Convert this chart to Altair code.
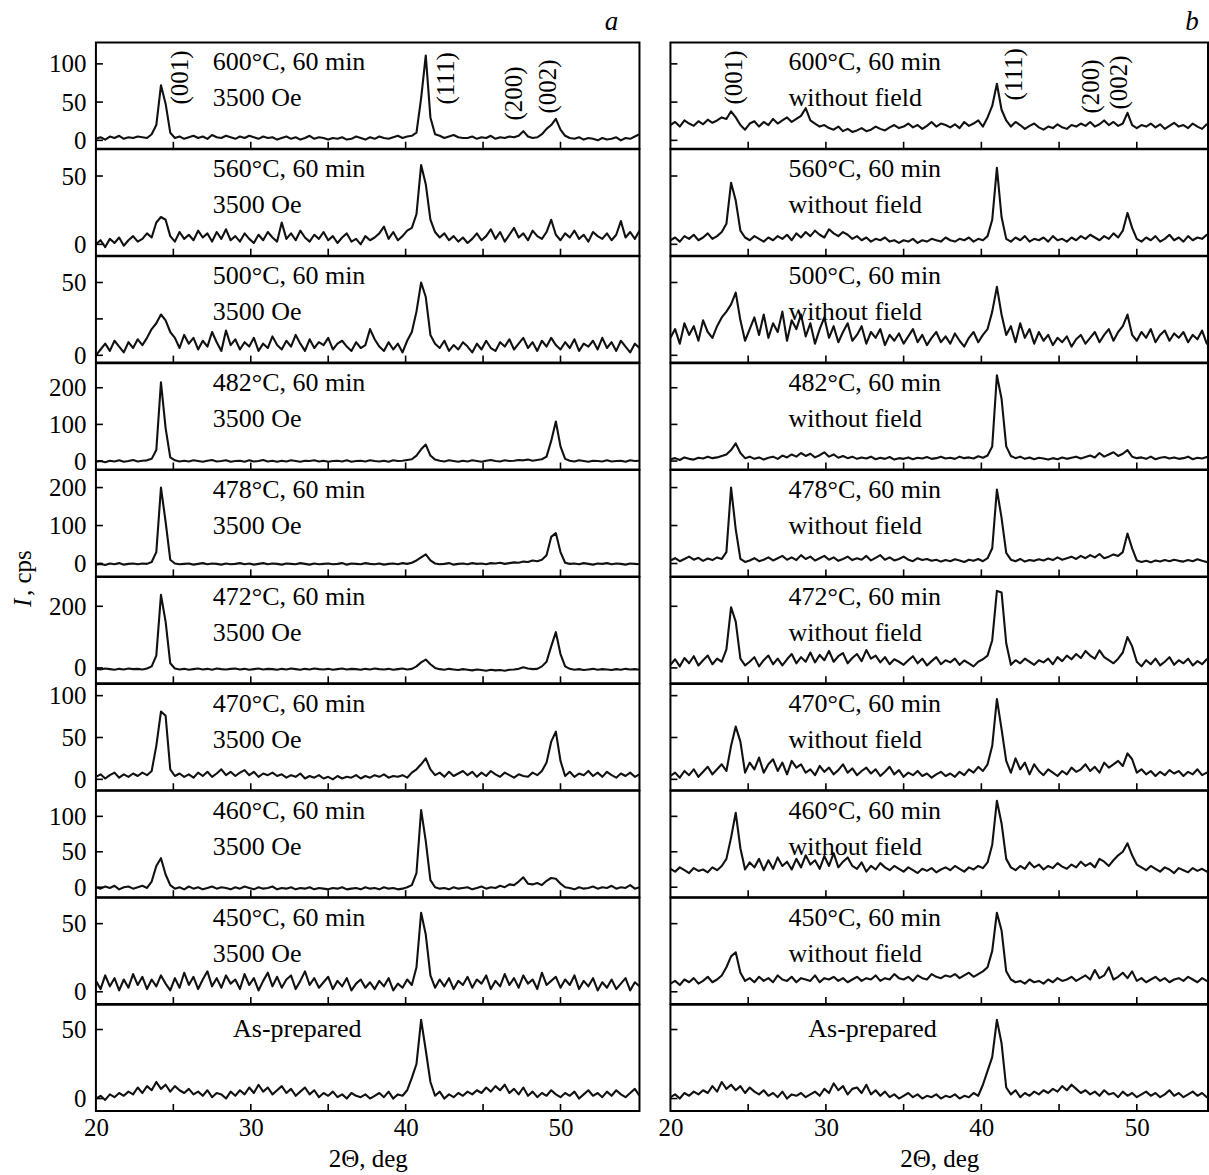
import altair as alt
import pandas as pd

FONT = "Liberation Serif"

# 2-theta sampling grid (deg)
two_theta = [round(20.0 + 0.3 * i, 1) for i in range(118)]

# ---- panel a (3500 Oe) ----
L1 = [2, 4, 1, 5, 3, 6, 2, 4, 3, 5,
      4, 3, 8, 20, 72, 48, 10, 3, 5, 2,
      4, 6, 3, 5, 2, 7, 4, 3, 6, 4,
      2, 5, 3, 6, 4, 2, 5, 3, 4, 1,
      3, 5, 2, 4, 1, 3, 6, 2, 4, 3,
      1, 3, 2, 4, 1, 2, 5, 3, 1, 4,
      2, 5, 3, 2, 4, 6, 3, 5, 6, 10,
      55, 111, 30, 8, 6, 3, 5, 7, 4, 3,
      3, 5, 2, 4, 3, 6, 2, 4, 3, 5,
      4, 6, 12, 5, 3, 4, 8, 15, 20, 28,
      14, 6, 3, 2, 4, 1, 3, 2, 0, 3,
      1, 2, 4, 0, 3, 2, 5, 8]
L2 = [0, 3, -2, 4, 1, 5, -1, 3, 6, 2,
      4, 8, 5, 16, 20, 18, 6, 2, 9, 4,
      7, 3, 10, 5, 8, 2, 9, 4, 11, 3,
      6, 2, 8, 4, 1, 7, 3, 9, 5, 2,
      16, 4, 8, 3, 10, 5, 2, 7, 4, 9,
      3, 6, 1, 5, 8, 2, 4, 0, 6, 3,
      5, 8, 13, 4, 9, 3, 6, 10, 12, 22,
      58, 44, 18, 9, 5, 8, 3, 6, 2, 5,
      1, 4, 8, 3, 6, 11, 4, 9, 2, 7,
      12, 5, 8, 3, 10, 6, 4, 9, 18, 7,
      3, 8, 5, 10, 4, 7, 2, 9, 6, 4,
      8, 3, 7, 17, 5, 9, 4, 10]
L3 = [0, 4, 8, 3, 10, 6, 2, 9, 5, 11,
      7, 12, 18, 22, 28, 24, 16, 12, 5, 14,
      8, 12, 4, 10, 6, 16, 9, 3, 17, 7,
      11, 4, 9, 6, 12, 3, 8, 5, 13, 7,
      4, 10, 6, 14, 8, 3, 11, 5, 9, 7,
      12, 4, 8, 10, 6, 3, 9, 5, 7, 18,
      11, 6, 3, 9, 4, 8, 2, 10, 16, 30,
      50, 40, 14, 8, 5, 10, 3, 7, 4, 9,
      6, 2, 8, 4, 10, 5, 3, 9, 6, 11,
      4, 8, 12, 5, 9, 3, 10, 6, 12, 7,
      4, 9, 5, 11, 3, 8, 6, 10, 4, 12,
      5, 9, 3, 10, 6, 2, 8, 5]
L4 = [-2, 0, -3, 1, -1, 2, -2, 0, 3, -1,
      1, 2, 6, 30, 215, 90, 10, 2, -1, 1,
      -1, 2, 0, -2, 1, 3, -1, 0, 2, -2,
      0, 1, -2, 2, -1, 0, 3, -1, 1, -2,
      1, -1, 2, 0, -2, 1, 0, 2, -1, 1,
      -2, 0, 1, -1, 2, -2, 0, 1, -1, 2,
      0, -1, 1, -2, 2, 0, 1, 3, 5, 15,
      32, 45, 15, 4, 1, -1, 2, 0, -2, 1,
      -1, 2, 0, -2, 1, 3, 0, -1, 2, 0,
      1, 3, 2, 4, 1, 3, 5, 12, 55, 108,
      40, 6, 1, -1, 2, 0, -2, 1, 0, -1,
      2, -1, 0, 1, -2, 2, 0, 1]
L5 = [-3, -1, -4, 0, -2, 1, -3, -1, 0, -2,
      0, -1, 4, 30, 200, 110, 10, 0, -2, -1,
      0, -3, -1, 1, -2, 0, -1, -3, 0, -2,
      -1, 1, -2, 0, -3, -1, 1, -2, 0, -1,
      -3, 0, -1, -2, 1, -1, -3, 0, -2, -1,
      0, -2, -1, 1, -3, 0, -1, -2, 1, -1,
      -2, 0, -3, -1, 0, -2, 1, -1, 2, 8,
      16, 24, 8, 0, -2, -1, 1, -3, -1, 0,
      -2, 1, -1, 0, -2, 1, 0, 2, -1, 1,
      3, 2, 5, 4, 8, 6, 10, 22, 70, 80,
      30, 2, -1, 0, -2, 1, -1, -3, 0, -1,
      1, -2, 0, -1, -3, 0, -1, -2]
L6 = [-3, -5, -2, -4, -6, -3, -5, -2, -4, -3,
      -5, -2, 5, 40, 237, 150, 15, -2, -5, -3,
      -6, -4, -2, -5, -3, -6, -2, -4, -5, -3,
      -2, -5, -3, -6, -4, -2, -5, -3, -4, -6,
      -3, -5, -2, -4, -6, -3, -5, -2, -4, -5,
      -3, -6, -4, -2, -5, -3, -4, -6, -3, -5,
      -2, -4, -5, -3, -6, -4, -2, -5, -3, 5,
      18, 27, 12, 0, -4, -6, -3, -5, -7, -4,
      -6, -8, -5, -7, -9, -6, -8, -7, -9, -6,
      -5, -3, 2, -2, -4, -3, 5, 20, 70, 116,
      45, 5, -3, -6, -4, -7, -5, -3, -6, -4,
      -5, -7, -4, -6, -3, -5, -4, -6]
L7 = [3, 6, 1, 5, 8, 2, 6, 3, 7, 4,
      8, 5, 10, 40, 81, 76, 12, 4, 7, 3,
      6, 2, 8, 4, 9, 3, 7, 12, 5, 9,
      4, 8, 11, 5, 9, 3, 7, 5, 8, 4,
      6, 2, 5, 3, 7, 1, 4, 2, 5, 1,
      3, 0, 4, 1, 3, 2, 5, 1, 4, 2,
      5, 3, 6, 2, 4, 3, 5, 2, 8, 12,
      18, 25, 12, 5, 8, 3, 9, 4, 7, 10,
      5, 9, 3, 8, 4, 10, 6, 3, 8, 5,
      2, 6, 4, 3, 8, 5, 10, 20, 45, 57,
      22, 4, 9, 3, 7, 5, 10, 4, 8, 3,
      9, 5, 2, 7, 4, 8, 3, 6]
L8 = [0, -2, 1, -1, 2, -3, 0, 1, -2, 0,
      2, -1, 8, 30, 41, 18, 3, -2, 0, -3,
      1, -2, 0, -3, -1, 1, -2, 0, -1, -3,
      0, -2, 1, -1, -3, 0, -2, -1, 1, -3,
      -1, -2, 0, -3, -1, -2, 0, -3, -1, -2,
      -3, -1, -2, 0, -3, -2, -1, -3, 0, -2,
      -1, -3, 0, -2, -1, -3, -2, 0, 3, 20,
      109, 65, 10, 0, -2, -1, -3, 0, -2, -1,
      0, -3, -1, 1, -2, 0, -1, 2, 0, 4,
      3, 8, 14, 5, 4, 6, 3, 9, 13, 12,
      5, 0, -1, -3, 0, -2, -1, 1, -2, 0,
      -1, 2, -2, 0, -1, 3, -2, 0]
L9 = [8, 2, 12, 4, 10, 1, 9, 3, 13, 5,
      11, 2, 9, 4, 12, 6, 1, 10, 3, 14,
      5, 11, 2, 9, 15, 4, 10, 3, 12, 6,
      9, 2, 13, 5, 10, 1, 8, 14, 4, 11,
      3, 9, 12, 2, 8, 15, 5, 10, 3, 7,
      11, 2, 8, 4, 10, 1, 6, 9, 3, 7,
      2, 8, 4, 10, 1, 6, 3, 9, 5, 18,
      58, 42, 12, 3, 9, 4, 10, 2, 8, 5,
      11, 3, 9, 6, 12, 2, 8, 4, 13, 5,
      10, 3, 12, 6, 9, 2, 14, 5, 8, 11,
      3, 9, 5, 12, 2, 8, 4, 10, 1, 7,
      3, 9, 2, 6, 10, 1, 7, 4]
L10 = [0, 2, -1, 3, 1, 4, 2, 5, 3, 8,
       4, 9, 6, 12, 7, 10, 5, 9, 6, 4,
       7, 3, 5, 2, 6, 1, 4, 3, 0, 5,
       2, 6, 3, 8, 4, 10, 5, 8, 3, 6,
       9, 4, 7, 2, 5, 8, 3, 6, 1, 4,
       2, 5, 1, 3, 0, 4, 2, 1, 3, 0,
       2, 4, 1, 5, 0, 3, 2, 6, 15, 25,
       57, 35, 12, 2, 5, 0, 3, 1, 4, 2,
       5, 3, 6, 4, 8, 5, 9, 6, 10, 4,
       7, 3, 8, 2, 5, 1, 4, 2, 6, 3,
       1, 4, 2, 5, 0, 3, 6, 2, 4, 1,
       5, 2, 6, 3, 1, 4, 7, 2]

# ---- panel b (without field) ----
R1 = [20, 24, 18, 26, 22, 19, 25, 21, 27, 23,
      26, 30, 28, 38, 30, 20, 14, 22, 25, 18,
      24, 20, 28, 22, 26, 30, 24, 28, 32, 42,
      26, 22, 18, 20, 16, 14, 18, 12, 15, 11,
      13, 16, 12, 14, 18, 15, 13, 17, 20, 16,
      18, 22, 17, 20, 15, 19, 24, 18, 22, 20,
      17, 21, 16, 24, 19, 22, 26, 18, 30, 45,
      74, 40, 26, 18, 24, 20, 15, 19, 22, 17,
      14, 18, 16, 21, 17, 15, 20, 18, 22, 19,
      24, 18, 21, 26, 20, 24, 19, 22, 36, 20,
      16, 20, 18, 22, 17, 21, 15, 19, 23, 18,
      20, 16, 22, 18, 15, 21, 19, 17]
R2 = [3, 5, 2, 6, 4, 7, 3, 5, 8, 4,
      6, 9, 15, 45, 32, 10, 5, 3, 6, 4,
      2, 5, 3, 6, 4, 7, 3, 8, 5, 9,
      6, 10, 7, 5, 11, 8, 6, 9, 7, 4,
      6, 3, 5, 2, 4, 3, 5, 2, 3, 1,
      3, 2, 4, 1, 3, 2, 4, 3, 2, 5,
      3, 2, 4, 3, 5, 2, 4, 3, 6, 18,
      56, 20, 4, 2, 5, 3, 6, 2, 4, 3,
      5, 2, 6, 3, 4, 2, 5, 3, 6, 4,
      7, 5, 3, 6, 4, 8, 5, 10, 23, 12,
      4, 2, 5, 3, 6, 2, 4, 7, 3, 5,
      2, 6, 3, 5, 4, 7, 3, 5]
R3 = [12, 18, 8, 22, 14, 20, 10, 24, 16, 12,
      20, 26, 30, 35, 43, 24, 10, 18, 26, 14,
      28, 12, 22, 16, 30, 10, 24, 18, 28, 13,
      22, 8, 18, 26, 12, 20, 9, 16, 22, 10,
      14, 20, 8, 16, 12, 18, 7, 14, 10, 15,
      8, 13, 18, 9, 14, 7, 12, 16, 9, 13,
      8, 15, 10, 6, 12, 16, 9, 14, 18, 30,
      47, 28, 14, 20, 9, 22, 12, 18, 8, 16,
      10, 14, 7, 12, 9, 13, 6, 11, 14, 8,
      12, 16, 9, 14, 18, 10, 16, 20, 28, 14,
      10, 16, 12, 18, 9, 14, 17, 10, 15, 12,
      16, 9, 14, 11, 17, 8, 13, 15]
R4 = [5, 8, 3, 10, 6, 4, 9, 7, 12, 8,
      10, 14, 18, 30, 48, 22, 8, 12, 6, 10,
      4, 9, 12, 6, 15, 10, 18, 12, 22, 14,
      20, 10, 16, 24, 12, 18, 9, 14, 8, 12,
      6, 10, 7, 12, 5, 9, 6, 11, 4, 8,
      6, 10, 5, 9, 7, 11, 6, 8, 12, 7,
      9, 6, 12, 8, 10, 7, 13, 9, 15, 40,
      234, 170, 40, 14, 8, 12, 6, 10, 5, 9,
      7, 4, 8, 5, 10, 6, 9, 12, 7, 11,
      15, 10, 22, 12, 18, 24, 14, 20, 30, 12,
      8, 10, 6, 12, 5, 9, 11, 7, 10, 6,
      8, 12, 5, 9, 7, 11, 6, 10]
R5 = [8, 14, 6, 12, 18, 10, 15, 7, 13, 9,
      16, 12, 30, 200, 90, 12, 4, 8, 14, 6,
      10, 16, 8, 14, 20, 10, 16, 9, 22, 12,
      18, 8, 14, 20, 10, 16, 7, 12, 18, 9,
      14, 10, 20, 8, 15, 22, 10, 16, 8, 12,
      18, 10, 6, 14, 9, 12, 7, 10, 5, 9,
      6, 11, 8, 4, 10, 7, 12, 6, 14, 40,
      195, 120, 28, 10, 6, 12, 5, 9, 7, 11,
      8, 13, 9, 16, 10, 14, 18, 12, 20, 14,
      22, 16, 25, 14, 18, 24, 20, 30, 79, 40,
      8, 4, 7, 3, 8, 5, 9, 6, 10, 7,
      5, 9, 6, 11, 7, 4, 8, 10]
R6 = [10, 28, 5, 32, 15, 38, 8, 25, 40, 12,
      30, 20, 60, 197, 150, 30, 8, 20, 35, 5,
      25, 40, 12, 30, 8, 28, 45, 15, 35, 20,
      50, 18, 42, 25, 55, 20, 38, 48, 15, 32,
      45, 22, 58, 30, 40, 18, 35, 12, 28, 20,
      10, 25, 38, 15, 30, 8, 22, 35, 12, 25,
      18, 30, 10, 24, 15, 5, 20, 28, 40, 90,
      250, 245, 80, 10, 25, 15, 30, 20, 10, 25,
      18, 30, 12, 35, 22, 40, 28, 45, 32, 55,
      40, 30, 57, 35, 25, 15, 30, 50, 100, 70,
      20, 5, 25, 12, 30, 8, 20, 35, 10, 25,
      15, 30, 8, 22, 12, 28, 18, 10]
R7 = [4, 8, 2, 10, 5, 12, 3, 9, 15, 6,
      12, 18, 10, 40, 63, 45, 8, 20, 12, 26,
      8, 18, 24, 10, 20, 6, 22, 14, 18, 8,
      12, 5, 16, 9, 14, 6, 11, 18, 8, 13,
      5, 10, 14, 7, 12, 4, 9, 15, 6, 11,
      3, 8, 5, 10, 4, 7, 2, 6, 9, 4,
      7, 3, 9, 5, 12, 8, 15, 10, 18, 40,
      96, 60, 22, 8, 25, 12, 20, 6, 18, 10,
      5, 12, 8, 4, 10, 6, 14, 9, 12, 18,
      10, 15, 8, 20, 14, 18, 22, 16, 31, 24,
      8, 12, 6, 10, 4, 9, 5, 11, 7, 10,
      4, 9, 6, 12, 5, 8, 3, 10]
R8 = [26, 22, 28, 24, 20, 27, 23, 25, 21, 28,
      24, 30, 40, 70, 105, 55, 25, 35, 28, 40,
      24, 38, 26, 42, 30, 36, 25, 40, 28, 45,
      32, 38, 26, 44, 30, 48, 28, 36, 42, 30,
      26, 35, 22, 30, 25, 34, 28, 24, 30, 26,
      22, 28, 24, 20, 26, 23, 27, 21, 25, 28,
      24, 30, 26, 22, 28, 25, 30, 27, 35, 60,
      122, 90, 40, 28, 24, 30, 26, 35, 28, 32,
      25, 30, 27, 34, 29, 26, 32, 28, 36, 30,
      34, 28, 40, 36, 30, 38, 45, 50, 62, 45,
      32, 28, 24, 30, 26, 22, 28, 25, 20, 27,
      24, 21, 27, 23, 26, 22, 25, 24]
R9 = [6, 8, 5, 9, 7, 10, 6, 8, 11, 7,
      9, 12, 18, 26, 29, 14, 8, 10, 7, 11,
      8, 10, 7, 12, 9, 8, 11, 7, 10, 9,
      8, 12, 7, 10, 9, 11, 8, 10, 7, 9,
      11, 8, 10, 9, 12, 8, 10, 9, 13, 10,
      9, 11, 8, 12, 10, 9, 13, 11, 10, 12,
      11, 13, 10, 12, 14, 11, 13, 15, 18, 30,
      58, 45, 15, 9, 7, 8, 6, 9, 7, 8,
      6, 9, 7, 10, 8, 9, 11, 8, 10, 12,
      9, 16, 10, 12, 18, 9, 11, 14, 10, 15,
      8, 10, 7, 9, 11, 8, 10, 7, 9, 10,
      8, 11, 9, 7, 10, 8, 9, 10]
R10 = [1, 3, 0, 4, 2, 5, 3, 6, 4, 9,
       5, 12, 7, 10, 6, 9, 4, 8, 5, 3,
       6, 2, 4, 1, 5, 0, 3, 2, 4, 1,
       3, 5, 2, 7, 4, 11, 6, 9, 3, 7,
       8, 4, 10, 3, 6, 2, 5, 1, 3, 0,
       2, 4, 1, 3, 0, 2, 1, 3, 0, 2,
       1, 3, 0, 2, 1, 4, 2, 10, 20, 30,
       57, 40, 8, 3, 6, 1, 4, 2, 5, 3,
       6, 4, 7, 5, 9, 6, 10, 7, 4, 6,
       3, 5, 2, 6, 3, 4, 1, 5, 2, 4,
       1, 3, 5, 2, 4, 1, 3, 6, 2, 4,
       1, 3, 5, 2, 4, 1, 3, 2]

series_a = [L1, L2, L3, L4, L5, L6, L7, L8, L9, L10]
series_b = [R1, R2, R3, R4, R5, R6, R7, R8, R9, R10]
for s in series_a + series_b:
    assert len(s) == len(two_theta), len(s)

conditions = ["600°C, 60 min", "560°C, 60 min", "500°C, 60 min", "482°C, 60 min",
              "478°C, 60 min", "472°C, 60 min", "470°C, 60 min", "460°C, 60 min",
              "450°C, 60 min", "As-prepared"]
field_a = "3500 Oe"
field_b = "without field"

y_domains = [[-11, 128], [-8.3, 69.5], [-5, 68], [-23, 267], [-34, 246],
             [-50, 295], [-13, 114], [-14, 136], [-9, 69], [-9, 68]]
y_labels = [[0, 50, 100], [0, 50], [0, 50], [0, 100, 200], [0, 100, 200],
            [0, 200], [0, 50, 100], [0, 50, 100], [0, 50], [0, 50]]
y_ticks_a = [[0, 50, 100], [0, 50], [0, 25, 50], [0, 100, 200], [0, 100, 200],
             [0, 200], [0, 50, 100], [0, 50, 100], [0, 50], [0, 50]]
y_ticks_b = [[0, 50, 100], [0, 50], [0, 50], [0, 100, 200], [0, 100, 200],
             [0, 200], [0, 50, 100], [0, 50, 100], [0, 50], [0, 50]]

x_tick_vals = [25, 30, 35, 40, 45, 50]
x_label_vals = [20, 30, 40, 50]

peak_names = ["(001)", "(111)", "(200)", "(002)"]
peak_x_a = [25.42, 42.6, 47.03, 49.2]
peak_x_b = [24.1, 42.1, 47.05, 48.86]
peak_py_a = [35, 36, 51, 44]
peak_py_b = [35, 32, 44, 40]

W_A, W_B = 544, 538
H = 106.4
XDOM_A = [20, 55.1]
XDOM_B = [20, 54.58]


def make_panel(row, side):
    left = side == "a"
    W = W_A if left else W_B
    vals = series_a[row] if left else series_b[row]
    xscale = alt.Scale(domain=XDOM_A if left else XDOM_B, nice=False, zero=False)
    yscale = alt.Scale(domain=y_domains[row], nice=False, zero=False)
    last = row == 9

    if last:
        xaxis = alt.Axis(values=x_label_vals, ticks=False, domain=False, grid=False,
                         labelPadding=5, labelFontSize=25, labelFont=FONT,
                         labelColor="black", format="d", labelFlush=False,
                         title="2Θ, deg", titleFont=FONT, titleFontSize=25,
                         titleFontWeight="normal", titleColor="black", titlePadding=6)
    else:
        xaxis = None
    if left:
        yaxis = alt.Axis(values=y_labels[row], ticks=False, domain=False, grid=False,
                         labelPadding=10, labelFontSize=25, labelFont=FONT,
                         labelColor="black", format="d", labelFlush=False,
                         labelOverlap=False, title=None)
    else:
        yaxis = None

    def X():
        return alt.X("x:Q", scale=xscale, axis=xaxis)

    def text_layer(xval, label, py, **kw):
        df = pd.DataFrame({"x": [xval], "t": [label]})
        return alt.Chart(df).mark_text(font=FONT, color="black", **kw).encode(
            x=X(), y=alt.value(py), text="t:N")

    df = pd.DataFrame({"x": two_theta, "y": vals})
    line = alt.Chart(df).mark_line(color="#111111", strokeWidth=2.1, clip=True,
                                   strokeJoin="round").encode(
        x=X(),
        y=alt.Y("y:Q", scale=yscale, axis=yaxis),
    )
    xt = alt.Chart(pd.DataFrame({"x": x_tick_vals})).mark_rule(
        color="black", strokeWidth=1.6).encode(
        x=X(), y=alt.value(H), y2=alt.value(H - 7))
    yt = alt.Chart(pd.DataFrame({"y": (y_ticks_a if left else y_ticks_b)[row]})).mark_rule(
        color="black", strokeWidth=1.6).encode(
        y=alt.Y("y:Q", scale=yscale, axis=yaxis),
        x=alt.value(0), x2=alt.value(7))

    layers = [line, xt, yt]
    if last:
        layers.append(text_layer(33.0, conditions[row], 24,
                                 align="center", baseline="middle", fontSize=26))
    else:
        tx = 27.55 if left else 27.6
        layers.append(text_layer(tx, conditions[row], 20,
                                 align="left", baseline="middle", fontSize=26))
        layers.append(text_layer(tx, field_a if left else field_b, 56,
                                 align="left", baseline="middle", fontSize=26))
    if row == 0:
        pxs = peak_x_a if left else peak_x_b
        pys = peak_py_a if left else peak_py_b
        for name, px, py in zip(peak_names, pxs, pys):
            layers.append(text_layer(px, name, py, align="center",
                                     baseline="middle", angle=270, fontSize=25))
        lab = pd.DataFrame({"t": ["a" if left else "b"]})
        layers.append(alt.Chart(lab).mark_text(font=FONT, fontSize=27, fontStyle="italic",
                                               color="black", align="center",
                                               baseline="middle").encode(
            text="t:N", x=alt.value(W - 28 if left else W - 16), y=alt.value(-20)))
    if left and row == 4:
        t1 = pd.DataFrame({"t": ["I"]})
        t2 = pd.DataFrame({"t": [", cps"]})
        layers.append(alt.Chart(t1).mark_text(font=FONT, fontSize=25, fontStyle="italic",
                                              color="black", angle=270, align="left",
                                              baseline="middle").encode(
            text="t:N", x=alt.value(-73), y=alt.value(137)))
        layers.append(alt.Chart(t2).mark_text(font=FONT, fontSize=25, color="black",
                                              angle=270, align="left",
                                              baseline="middle").encode(
            text="t:N", x=alt.value(-73), y=alt.value(126)))
    return alt.layer(*layers).properties(width=W, height=H)


col_a = alt.vconcat(*[make_panel(r, "a") for r in range(10)], spacing=0, bounds="flush")
col_b = alt.vconcat(*[make_panel(r, "b") for r in range(10)], spacing=0, bounds="flush")

chart = alt.hconcat(col_a, col_b, spacing=16).properties(
    padding={"left": 10, "top": 7, "right": 0, "bottom": 0},
    background="white",
).configure_view(stroke="black", strokeWidth=2).configure_text(font=FONT)

chart.save("out.html", embed_options={"renderer": "svg", "actions": False})
